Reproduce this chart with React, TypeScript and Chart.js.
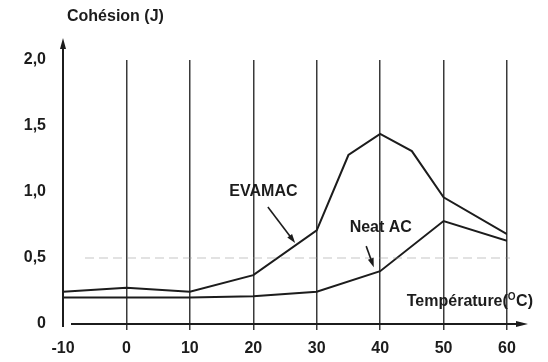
import React, { useEffect, useRef } from "react";
import { Chart, registerables } from "chart.js";

Chart.register(...registerables);

// ---- data ----
const evamacTemps = [-10, 0, 10, 20, 30, 35, 40, 45, 50, 60];
const evamacValues = [0.245, 0.275, 0.245, 0.37, 0.71, 1.28, 1.44, 1.31, 0.96, 0.68];
const neatTemps = [-10, 0, 10, 20, 30, 40, 50, 60];
const neatValues = [0.2, 0.2, 0.2, 0.21, 0.245, 0.4, 0.78, 0.63];
const xTickValues = [-10, 0, 10, 20, 30, 40, 50, 60];
const yTickLabels = ["0", "0,5", "1,0", "1,5", "2,0"];
const yTitle = "Cohésion (J)";
const xTitleMain = "Température(";
const xTitleSup = "O";
const xTitleEnd = "C)";
const seriesNames = ["EVAMAC", "Neat AC"];

const FONT = '"Liberation Sans", Arial, sans-serif';
const INK = "#1c1c1c";

const decorPlugin = {
  id: "decor",
  afterDatasetsDraw(chart: any) {
    const { ctx, chartArea, scales } = chart;
    const xs = scales.x;
    const ys = scales.y;
    const px = (v: number) => xs.getPixelForValue(v);
    const py = (v: number) => ys.getPixelForValue(v);
    ctx.save();

    // faint dashed reference line at 0.5
    ctx.strokeStyle = "rgba(150,150,150,0.55)";
    ctx.lineWidth = 1.2;
    ctx.setLineDash([9, 5]);
    ctx.beginPath();
    ctx.moveTo(chartArea.left + 22, py(0.5));
    ctx.lineTo(chartArea.right + 3, py(0.5));
    ctx.stroke();
    ctx.setLineDash([]);

    // y axis with arrow
    const ax = px(-10);
    ctx.strokeStyle = INK;
    ctx.fillStyle = INK;
    ctx.lineWidth = 2;
    ctx.beginPath();
    ctx.moveTo(ax, py(0) + 3);
    ctx.lineTo(ax, chartArea.top - 14);
    ctx.stroke();
    ctx.beginPath();
    ctx.moveTo(ax, chartArea.top - 22);
    ctx.lineTo(ax - 3, chartArea.top - 11);
    ctx.lineTo(ax + 3, chartArea.top - 11);
    ctx.closePath();
    ctx.fill();

    // x axis with arrow
    const ay = py(0);
    ctx.beginPath();
    ctx.moveTo(ax + 8, ay);
    ctx.lineTo(chartArea.right + 12, ay);
    ctx.stroke();
    ctx.beginPath();
    ctx.moveTo(chartArea.right + 21, ay);
    ctx.lineTo(chartArea.right + 9, ay - 3);
    ctx.lineTo(chartArea.right + 9, ay + 3);
    ctx.closePath();
    ctx.fill();

    // annotation arrows
    const arrow = (x1: number, y1: number, x2: number, y2: number) => {
      const X1 = px(x1), Y1 = py(y1), X2 = px(x2), Y2 = py(y2);
      const ang = Math.atan2(Y2 - Y1, X2 - X1);
      ctx.lineWidth = 1.6;
      ctx.beginPath();
      ctx.moveTo(X1, Y1);
      ctx.lineTo(X2 - 5 * Math.cos(ang), Y2 - 5 * Math.sin(ang));
      ctx.stroke();
      ctx.beginPath();
      ctx.moveTo(X2, Y2);
      ctx.lineTo(X2 - 9 * Math.cos(ang) + 3 * Math.sin(ang), Y2 - 9 * Math.sin(ang) - 3 * Math.cos(ang));
      ctx.lineTo(X2 - 9 * Math.cos(ang) - 3 * Math.sin(ang), Y2 - 9 * Math.sin(ang) + 3 * Math.cos(ang));
      ctx.closePath();
      ctx.fill();
    };
    arrow(22.3, 0.886, 26.6, 0.614);
    arrow(37.8, 0.59, 39.0, 0.43);

    // texts
    ctx.font = `bold 16px ${FONT}`;
    ctx.textBaseline = "middle";
    ctx.textAlign = "center";
    ctx.fillText(seriesNames[0], px(21.6), py(1.0));
    ctx.fillText(seriesNames[1], px(40.1), py(0.727));

    ctx.textAlign = "left";
    ctx.fillText(yTitle, chartArea.left + 4, 17);

    const tx = px(44.2);
    const tyy = py(0.17);
    ctx.fillText(xTitleMain, tx, tyy);
    let w = ctx.measureText(xTitleMain).width;
    ctx.font = `bold 10px ${FONT}`;
    ctx.fillText(xTitleSup, tx + w, tyy - 4);
    const w2 = ctx.measureText(xTitleSup).width;
    ctx.font = `bold 16px ${FONT}`;
    ctx.fillText(xTitleEnd, tx + w + w2 + 0.5, tyy);

    ctx.restore();
  },
};

export default function App() {
  const ref = useRef<HTMLCanvasElement | null>(null);
  useEffect(() => {
    if (!ref.current) return;
    const chart = new Chart(ref.current, {
      type: "line",
      data: {
        datasets: [
          {
            label: seriesNames[0],
            data: evamacTemps.map((t, i) => ({ x: t, y: evamacValues[i] })),
            borderColor: INK,
            borderWidth: 2,
            pointRadius: 0,
            tension: 0,
            fill: false,
          },
          {
            label: seriesNames[1],
            data: neatTemps.map((t, i) => ({ x: t, y: neatValues[i] })),
            borderColor: INK,
            borderWidth: 2,
            pointRadius: 0,
            tension: 0,
            fill: false,
          },
        ],
      },
      options: {
        responsive: false,
        animation: false,
        layout: { padding: { left: 0, top: 60, right: 41, bottom: 0 } },
        plugins: { legend: { display: false }, tooltip: { enabled: false } },
        scales: {
          x: {
            type: "linear",
            min: xTickValues[0],
            max: xTickValues[xTickValues.length - 1],
            afterBuildTicks: (s: any) => {
              s.ticks = xTickValues.map((v) => ({ value: v }));
            },
            afterFit: (s: any) => {
              s.height = 38;
            },
            ticks: {
              autoSkip: false,
              maxRotation: 0,
              padding: 9,
              color: INK,
              font: { family: FONT, size: 16, weight: "bold" },
              callback: (v: any) => String(v),
            },
            grid: {
              color: (c: any) => (c.tick && c.tick.value === xTickValues[0] ? "rgba(0,0,0,0)" : "#3a3a3a"),
              lineWidth: 1.5,
              drawTicks: true,
              tickLength: 6,
            },
            border: { display: false },
          },
          y: {
            type: "linear",
            min: 0,
            max: 2,
            afterFit: (s: any) => {
              s.width = 63;
            },
            ticks: {
              stepSize: 0.5,
              padding: 17,
              color: INK,
              font: { family: FONT, size: 16, weight: "bold" },
              callback: (_v: any, i: number) => yTickLabels[i],
            },
            grid: { display: false, drawTicks: false },
            border: { display: false },
          },
        },
      },
      plugins: [decorPlugin],
    } as any);
    return () => chart.destroy();
  }, []);
  return (
    <div style={{ position: "absolute", left: 0, top: 0, width: 548, height: 362, background: "#fff" }}>
      <canvas ref={ref} width={548} height={362} style={{ display: "block" }} />
    </div>
  );
}
